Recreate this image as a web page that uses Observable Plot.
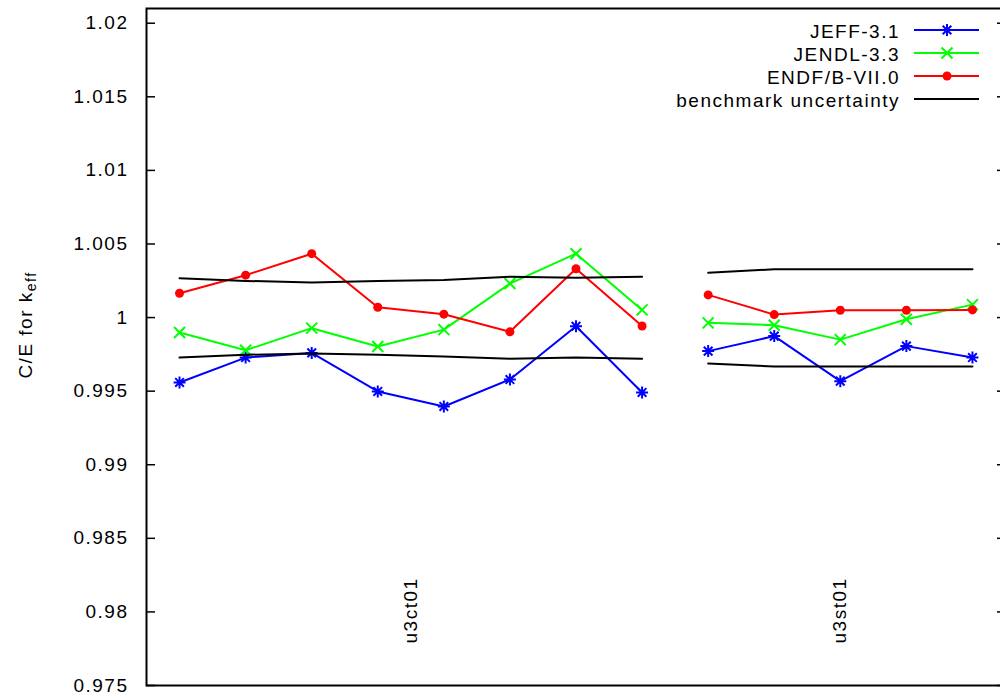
<!DOCTYPE html>
<html><head><meta charset="utf-8">
<script src="https://cdn.jsdelivr.net/npm/d3@7"></script>
<script src="https://cdn.jsdelivr.net/npm/@observablehq/plot@0.6"></script>
<style>
html,body{margin:0;padding:0;background:#fff;overflow:hidden}
#wrap{position:relative;width:1000px;height:700px;overflow:hidden;font-family:"Liberation Sans",Arial,sans-serif;font-size:19px;letter-spacing:1.5px;color:#000}
.lg-text{position:absolute;right:100px;height:23px;line-height:23px;white-space:nowrap;text-align:right}
.lg-sample{position:absolute;left:913px;width:68px;height:23px}
</style></head><body><div id="wrap"></div>
<script>
// ---- data ----
const caseIndex = [1, 2, 3, 4, 5, 6, 7, 8, 9, 10, 11, 12, 13];
const caseGroup = ["u3ct01","u3ct01","u3ct01","u3ct01","u3ct01","u3ct01","u3ct01","u3ct01",
                   "u3st01","u3st01","u3st01","u3st01","u3st01"];
const jeff31  = [0.99559, 0.99728, 0.99760, 0.99498, 0.99396, 0.99579, 0.99941, 0.99491,
                 0.99772, 0.99874, 0.99568, 0.99806, 0.99728];
const jendl33 = [0.99898, 0.99778, 0.99928, 0.99803, 0.99918, 1.00231, 1.00434, 1.00052,
                 0.99964, 0.99948, 0.99850, 0.99989, 1.00088];
const endfb70 = [1.00165, 1.00288, 1.00434, 1.00070, 1.00023, 0.99903, 1.00332, 0.99943,
                 1.00154, 1.00020, 1.00050, 1.00050, 1.00052];
const benchUpper = [1.00267, 1.00249, 1.00238, 1.00249, 1.00256, 1.00278, 1.00271, 1.00278,
                    1.00305, 1.00328, 1.00328, 1.00328, 1.00328];
const benchLower = [0.99728, 0.99747, 0.99756, 0.99747, 0.99735, 0.99721, 0.99728, 0.99720,
                    0.99688, 0.99667, 0.99667, 0.99667, 0.99667];
const yTicks = [0.975, 0.98, 0.985, 0.99, 0.995, 1, 1.005, 1.01, 1.015, 1.02];
const caseLabels = ["u3ct01", "u3st01"];
const caseLabelX = [4.5, 11];
const seriesNames = ["JEFF-3.1", "JENDL-3.3", "ENDF/B-VII.0", "benchmark uncertainty"];
const seriesColors = ["#0000ff", "#00ff00", "#ff0000", "#000000"];

// ---- helpers ----
const rows = vals => caseIndex.map((x, i) => ({x, y: vals[i], g: caseGroup[i]}));
const asteriskSym = {draw(ctx, size) {
  const r = Math.sqrt(size / Math.PI), d = r * 0.72;
  ctx.moveTo(-r, 0); ctx.lineTo(r, 0); ctx.moveTo(0, -r); ctx.lineTo(0, r);
  ctx.moveTo(-d, -d); ctx.lineTo(d, d); ctx.moveTo(-d, d); ctx.lineTo(d, -d);
}};
const timesSym = {draw(ctx, size) {
  const r = Math.sqrt(size / Math.PI);
  ctx.moveTo(-r, -r); ctx.lineTo(r, r); ctx.moveTo(-r, r); ctx.lineTo(r, -r);
}};

const lw = 2;
const plot = Plot.plot({
  width: 1006, height: 700,
  marginLeft: 146, marginRight: 1, marginTop: 8, marginBottom: 15,
  style: {maxWidth: "none", fontFamily: '"Liberation Sans", Arial, sans-serif', fontSize: "19px", letterSpacing: "1.5px", background: "#fff", overflow: "visible"},
  x: {domain: [0.5, 13.5], axis: null},
  y: {domain: [0.975, 1.021], axis: null},
  marks: [
    Plot.axisY({anchor: "left", ticks: yTicks, tickSize: 9, dx: 9, tickPadding: 18, tickFormat: d => String(d), strokeWidth: 1.5, label: null, fill: "#000"}),
    Plot.axisY({anchor: "right", ticks: yTicks, tickSize: 9, dx: -9, tickFormat: () => "", strokeWidth: 1.5, label: null}),
    Plot.line(rows(jeff31), {x: "x", y: "y", z: "g", stroke: seriesColors[0], strokeWidth: lw}),
    Plot.dot(rows(jeff31), {x: "x", y: "y", symbol: asteriskSym, r: 6, fill: "none", stroke: seriesColors[0], strokeWidth: 2}),
    Plot.line(rows(jendl33), {x: "x", y: "y", z: "g", stroke: seriesColors[1], strokeWidth: lw}),
    Plot.dot(rows(jendl33), {x: "x", y: "y", symbol: timesSym, r: 5.5, fill: "none", stroke: seriesColors[1], strokeWidth: 2}),
    Plot.line(rows(endfb70), {x: "x", y: "y", z: "g", stroke: seriesColors[2], strokeWidth: lw}),
    Plot.dot(rows(endfb70), {x: "x", y: "y", r: 4.5, fill: seriesColors[2], stroke: "none"}),
    Plot.line(rows(benchUpper), {x: "x", y: "y", z: "g", stroke: seriesColors[3], strokeWidth: lw}),
    Plot.line(rows(benchLower), {x: "x", y: "y", z: "g", stroke: seriesColors[3], strokeWidth: lw}),
    Plot.text(caseLabels, {x: (d, i) => caseLabelX[i], text: d => d, frameAnchor: "bottom", dy: -42,
      rotate: -90, textAnchor: "start", lineAnchor: "middle", fill: "#000"}),
    Plot.text(["C/E for k"], {text: d => d, frameAnchor: "left", dx: -121, dy: -22, rotate: -90,
      textAnchor: "middle", lineAnchor: "middle", fill: "#000"}),
    Plot.frame({stroke: "#000", strokeWidth: 2})
  ]
});
document.getElementById("wrap").appendChild(plot);

// subscript for the y label
d3.select(plot).selectAll("text")
  .filter(function() { return this.textContent === "C/E for k"; })
  .append("tspan").attr("dy", "0.3em").style("font-size", "14px").text("eff");

// ---- legend (inside the plot, top right) ----
const wrap = d3.select("#wrap");
const symbols = ["asterisk", "times", "circle", null];
seriesNames.forEach((name, i) => {
  const top = 19.5 + 23 * i;
  wrap.append("div").attr("class", "lg-text").style("top", top + "px").text(name);
  const s = wrap.append("svg").attr("class", "lg-sample").style("top", top + "px")
    .attr("width", 68).attr("height", 23);
  s.append("line").attr("x1", 1).attr("x2", 66).attr("y1", 10).attr("y2", 10)
    .attr("stroke", seriesColors[i]).attr("stroke-width", 2);
  const cx = 34, cy = 10;
  if (symbols[i] === "asterisk") {
    const p = d3.path(); asteriskSym.draw({moveTo: (a, b) => p.moveTo(a + cx, b + cy), lineTo: (a, b) => p.lineTo(a + cx, b + cy)}, Math.PI * 36);
    s.append("path").attr("d", p.toString()).attr("stroke", seriesColors[i]).attr("stroke-width", 2).attr("fill", "none");
  } else if (symbols[i] === "times") {
    const p = d3.path(); timesSym.draw({moveTo: (a, b) => p.moveTo(a + cx, b + cy), lineTo: (a, b) => p.lineTo(a + cx, b + cy)}, Math.PI * 30.25);
    s.append("path").attr("d", p.toString()).attr("stroke", seriesColors[i]).attr("stroke-width", 2).attr("fill", "none");
  } else if (symbols[i] === "circle") {
    s.append("circle").attr("cx", cx).attr("cy", cy).attr("r", 4.5).attr("fill", seriesColors[i]);
  }
});
</script></body></html>
